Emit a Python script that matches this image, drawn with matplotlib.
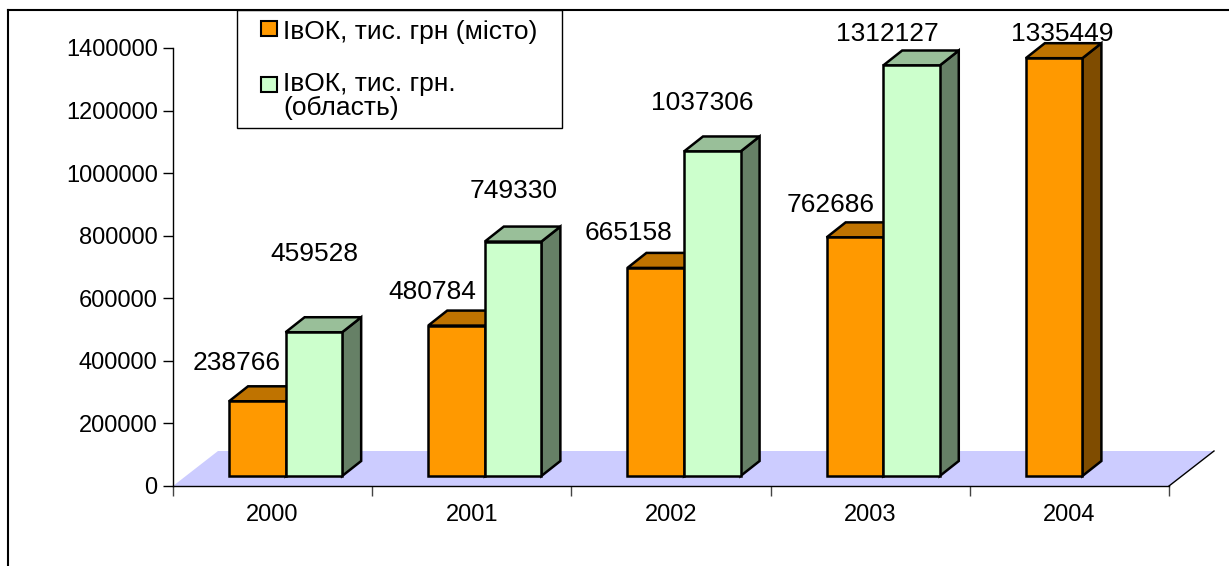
import numpy as np
import matplotlib
matplotlib.use("Agg")
import matplotlib.pyplot as plt
from matplotlib.patches import Polygon, Rectangle
from matplotlib.lines import Line2D

plt.rcParams['font.family'] = ['Liberation Sans', 'DejaVu Sans']

# --- дані ---
years = ['2000', '2001', '2002', '2003', '2004']
city = [238766, 480784, 665158, 762686, 1335449]
region = [459528, 749330, 1037306, 1312127, np.nan]
city_name = 'ІвОК, тис. грн (місто)'
region_name = ['ІвОК, тис. грн.', '(область)']

# зсув підписів відносно верху стовпчика (пікселі)
city_lbl_dx = [-21, -24, -27, -24, 8]
city_lbl_dy = [31, 27, 28, 25, 17]
region_lbl_dx = [0, 1, -10, -24, 0]
region_lbl_dy = [71, 44, 41, 24, 0]

W, H = 1229, 566
fig = plt.figure(figsize=(W / 100, H / 100), dpi=100)
ax = fig.add_axes([173 / W, (H - 486) / H, 996 / W, 438 / H])
ax.set_xlim(0, 5)
ax.set_ylim(0, 1400000)

# перерахунок пікселів у координати осей
px_x = 5 / 996
px_y = 1400000 / 438

floor_dx, floor_dy = 45 * px_x, 35 * px_y
shift_x, shift_y = 13 * px_x, 10 * px_y
depth_x, depth_y = 19 * px_x, 15 * px_y
bw = 0.284

# підлога
floor = Polygon([(0, 0), (5, 0), (5 + floor_dx, floor_dy), (floor_dx, floor_dy)],
                closed=True, facecolor='#CCCCFF', edgecolor='none', clip_on=False, zorder=1)
ax.add_patch(floor)
ax.plot([5, 5 + floor_dx], [0, floor_dy], color='black', lw=1, clip_on=False, zorder=1.5)


def bar3d(x0, v, front, top, side):
    x = x0 + shift_x
    y0 = shift_y
    y1 = shift_y + v
    kw = dict(closed=True, edgecolor='black', lw=1.8, joinstyle='miter', clip_on=False, zorder=3)
    ax.add_patch(Polygon([(x + bw, y0), (x + bw + depth_x, y0 + depth_y),
                          (x + bw + depth_x, y1 + depth_y), (x + bw, y1)], facecolor=side, **kw))
    ax.add_patch(Polygon([(x, y1), (x + bw, y1), (x + bw + depth_x, y1 + depth_y),
                          (x + depth_x, y1 + depth_y)], facecolor=top, **kw))
    ax.add_patch(Polygon([(x, y0), (x + bw, y0), (x + bw, y1), (x, y1)], facecolor=front, **kw))
    return x + bw / 2, y1


for i in range(len(years)):
    cx, cy = bar3d(i + 0.5 - bw, city[i], '#FF9900', '#BF7300', '#7F4C00')
    ax.annotate(f'{city[i]}', (cx, cy), xytext=(city_lbl_dx[i], city_lbl_dy[i]),
                textcoords='offset pixels', ha='center', va='baseline', fontsize=19,
                annotation_clip=False, zorder=5)
    if not np.isnan(region[i]):
        gx, gy = bar3d(i + 0.5, region[i], '#CCFFCC', '#99BF99', '#668066')
        ax.annotate(f'{int(region[i])}', (gx, gy), xytext=(region_lbl_dx[i], region_lbl_dy[i]),
                    textcoords='offset pixels', ha='center', va='baseline', fontsize=19,
                    annotation_clip=False, zorder=5)

# осі
for s in ['top', 'right']:
    ax.spines[s].set_visible(False)
ax.spines['left'].set_linewidth(1)
ax.spines['bottom'].set_linewidth(1)
ax.set_yticks(np.arange(0, 1400001, 200000))
ax.set_yticklabels([f'{v}' for v in range(0, 1400001, 200000)])
ax.tick_params(axis='y', length=7, width=1, pad=4, labelsize=17)
ax.set_xticks(np.arange(5) + 0.5)
ax.set_xticklabels(years)
ax.tick_params(axis='x', which='major', length=0, pad=13, labelsize=17)
ax.set_xticks(np.arange(6), minor=True)
ax.tick_params(axis='x', which='minor', length=7, width=1, color='#444444')
ax.patch.set_visible(False)

# рамка діаграми
fig.add_artist(Line2D([8 / W, 1], [(H - 10) / H] * 2, color='black', lw=1.5))
fig.add_artist(Line2D([8 / W] * 2, [0, (H - 10) / H], color='black', lw=1.5))

# легенда
fig.add_artist(Rectangle((237 / W, (H - 128) / H), 325 / W, 118 / H,
                         facecolor='white', edgecolor='black', lw=1))
fig.add_artist(Rectangle((261 / W, (H - 36) / H), 16 / W, 15 / H,
                         facecolor='#FF9900', edgecolor='black', lw=1.5))
fig.add_artist(Rectangle((261 / W, (H - 92) / H), 16 / W, 15 / H,
                         facecolor='#CCFFCC', edgecolor='black', lw=1.5))
fig.text(283 / W, (H - 39) / H, city_name, fontsize=19, va='baseline')
fig.text(283 / W, (H - 91) / H, region_name[0], fontsize=19, va='baseline')
fig.text(283 / W, (H - 115) / H, region_name[1], fontsize=19, va='baseline')

fig.savefig('out.png', dpi=100)
